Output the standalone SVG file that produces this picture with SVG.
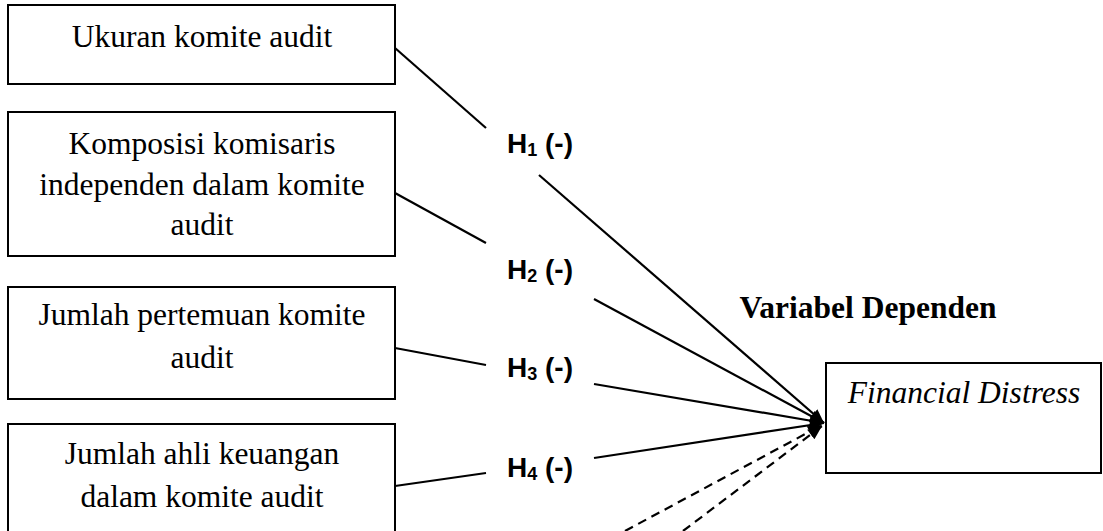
<svg xmlns="http://www.w3.org/2000/svg" width="1103" height="531" viewBox="0 0 1103 531">
<style>
.box{fill:#fff;stroke:#000;stroke-width:2}
.t{font-family:"Liberation Serif","Times New Roman",serif;font-size:31.5px;fill:#000;text-anchor:middle}
.h{font-family:"Liberation Sans",Arial,sans-serif;font-weight:bold;font-size:28px;fill:#000}
.sub{font-size:18px}
.ln{stroke:#000;stroke-width:2.2;fill:none}
.ds{stroke:#000;stroke-width:2.2;fill:none;stroke-dasharray:9,6}
</style>
<defs>
<marker id="ah" viewBox="0 0 14 12" refX="14" refY="6" markerWidth="15" markerHeight="12" markerUnits="userSpaceOnUse" orient="auto">
<path d="M0,0 L14,6 L0,12 Z" fill="#000"/>
</marker>
</defs>
<rect width="1103" height="531" fill="#fff"/>
<g id="n1"><rect class="box" x="8" y="5" width="387" height="79"/><text class="t" x="202" y="47">Ukuran komite audit</text></g>
<g id="n2"><rect class="box" x="8" y="112" width="387" height="144"/><text class="t" x="202" y="154">Komposisi komisaris</text><text class="t" x="202" y="195">independen dalam komite</text><text class="t" x="202" y="235">audit</text></g>
<g id="n3"><rect class="box" x="8" y="287" width="387" height="112"/><text class="t" x="202" y="325">Jumlah pertemuan komite</text><text class="t" x="202" y="368">audit</text></g>
<g id="n4"><rect class="box" x="8" y="424" width="387" height="120"/><text class="t" x="202" y="464">Jumlah ahli keuangan</text><text class="t" x="202" y="507">dalam komite audit</text></g>
<g id="dep"><text class="t" x="868" y="318" font-weight="bold">Variabel Dependen</text></g>
<g id="n5"><rect class="box" x="826" y="363" width="275" height="110"/><text class="t" x="964" y="403" font-style="italic">Financial Distress</text></g>
<g id="labels">
<text class="h" x="507" y="153">H<tspan class="sub" dy="3">1</tspan><tspan dy="-3"> (-)</tspan></text>
<text class="h" x="507" y="279">H<tspan class="sub" dy="3">2</tspan><tspan dy="-3"> (-)</tspan></text>
<text class="h" x="507" y="377">H<tspan class="sub" dy="3">3</tspan><tspan dy="-3"> (-)</tspan></text>
<text class="h" x="507" y="477">H<tspan class="sub" dy="3">4</tspan><tspan dy="-3"> (-)</tspan></text>
</g>
<g id="connectors">
<line class="ln" x1="395" y1="48" x2="486" y2="128"/>
<line class="ln" x1="539" y1="175" x2="824" y2="423" marker-end="url(#ah)"/>
<line class="ln" x1="395" y1="193" x2="486" y2="243"/>
<line class="ln" x1="594" y1="299" x2="824" y2="423" marker-end="url(#ah)"/>
<line class="ln" x1="395" y1="348" x2="486" y2="365"/>
<line class="ln" x1="594" y1="384" x2="824" y2="423" marker-end="url(#ah)"/>
<line class="ln" x1="395" y1="486" x2="486" y2="473"/>
<line class="ln" x1="594" y1="458" x2="824" y2="423" marker-end="url(#ah)"/>
<line class="ds" x1="625" y1="531" x2="822" y2="425" marker-end="url(#ah)"/>
<line class="ds" x1="683" y1="531" x2="822" y2="426" marker-end="url(#ah)"/>
</g>
</svg>
